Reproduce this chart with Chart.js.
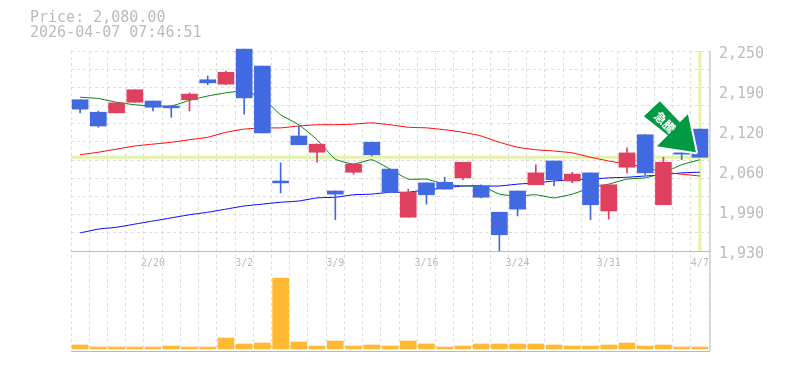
<!DOCTYPE html>
<html>
<head>
<meta charset="utf-8">
<title>Price chart</title>
<script src="https://cdn.jsdelivr.net/npm/chart.js@4"></script>
<style>
    html, body { margin: 0; padding: 0; background: #fff; }
    #wrap { position: relative; width: 785px; height: 370px; }
</style>
</head>
<body>
<div id="wrap"><canvas id="chart" width="785" height="370"></canvas></div>
<script>
const headerLines = ['Price: 2,080.00', '2026-04-07 07:46:51'];
const lastPrice = 2080;
const markText = '急騰';

const dates = ['2/16', '2/17', '2/18', '2/19', '2/20', '2/24', '2/25', '2/26', '2/27', '3/2', '3/3', '3/4', '3/5', '3/6', '3/9', '3/10', '3/11', '3/12', '3/13', '3/16', '3/17', '3/18', '3/19', '3/23', '3/24', '3/25', '3/26', '3/27', '3/30', '3/31', '4/1', '4/2', '4/3', '4/6', '4/7'];
const dateTicks = ['2/20', '3/2', '3/9', '3/16', '3/24', '3/31', '4/7'];
const priceTicks = [2250, 2186, 2122, 2058, 1994, 1930];

const opens = [2172, 2152, 2151, 2168, 2170, 2162, 2172, 2204, 2197, 2253, 2226, 2042, 2114, 2088, 2026, 2056, 2104, 2061, 1984, 2039, 2040, 2047, 2034, 1992, 2026, 2036, 2074, 2042, 2055, 1994, 2064, 2116, 2004, 2087, 2125];
const closes = [2157, 2130, 2167, 2188, 2160, 2159, 2181, 2199, 2216, 2175, 2119, 2039, 2100, 2101, 2021, 2069, 2084, 2024, 2024, 2020, 2029, 2072, 2016, 1956, 1997, 2055, 2044, 2053, 2004, 2036, 2087, 2055, 2072, 2085, 2080];
const highs = [2172, 2154, 2167, 2188, 2170, 2162, 2183, 2210, 2218, 2253, 2226, 2071, 2130, 2101, 2026, 2069, 2104, 2061, 2029, 2039, 2048, 2072, 2036, 1992, 2026, 2068, 2074, 2056, 2055, 2036, 2095, 2116, 2080, 2087, 2125];
const lows = [2151, 2128, 2151, 2168, 2154, 2144, 2154, 2196, 2196, 2149, 2119, 2023, 2100, 2072, 1980, 2053, 2082, 2024, 1984, 2005, 2029, 2044, 2015, 1930, 1986, 2036, 2034, 2039, 1980, 1981, 2055, 2052, 2004, 2076, 2080];

const maShort = [2176, 2174, 2168, 2164, 2162, 2162, 2171, 2178, 2183, 2186, 2175, 2148, 2132, 2108, 2077, 2069, 2076, 2061, 2045, 2045, 2037, 2034, 2034, 2021, 2018, 2020, 2015, 2021, 2031, 2037, 2045, 2047, 2055, 2068, 2076];
const maMid = [2084, 2088, 2093, 2098, 2101, 2104, 2108, 2112, 2120, 2125, 2127, 2127, 2130, 2132, 2132, 2133, 2135, 2132, 2128, 2127, 2124, 2120, 2114, 2104, 2096, 2092, 2090, 2087, 2080, 2074, 2069, 2064, 2056, 2053, 2050];
const maLong = [1959, 1965, 1968, 1973, 1978, 1983, 1988, 1992, 1997, 2002, 2005, 2008, 2010, 2015, 2016, 2020, 2021, 2024, 2024, 2028, 2031, 2034, 2034, 2034, 2037, 2039, 2042, 2044, 2045, 2047, 2048, 2050, 2052, 2055, 2056];

const volumes = [4, 2, 2, 2, 2, 3, 2, 2, 11, 5, 6, 71, 7, 3, 8, 3, 4, 3, 8, 5, 2, 3, 5, 5, 5, 5, 4, 3, 3, 4, 6, 3, 4, 2, 2];

const UP = '#e04060';
const DOWN = '#4169e1';
const FONT = '"DejaVu Sans Mono", monospace';

// pale cross on the last price and last session, plus the text above the plot
const overlayPlugin = {
    id: 'overlay',
    beforeDatasetsDraw(chart) {
        const { ctx, chartArea: a, scales } = chart;
        const py = scales.y.getPixelForValue(lastPrice);
        const px = scales.x.getPixelForValue(dates.length - 1);
        ctx.save();
        ctx.strokeStyle = '#e5f2ab';
        ctx.lineWidth = 3;
        ctx.beginPath();
        ctx.moveTo(a.left, py);
        ctx.lineTo(a.right, py);
        ctx.moveTo(px, scales.y.getPixelForValue(2250));
        ctx.lineTo(px, scales.y.getPixelForValue(1930));
        ctx.stroke();
        ctx.restore();
    },
    afterDraw(chart) {
        const { ctx, chartArea: a, scales } = chart;
        ctx.save();
        ctx.fillStyle = '#bbb';
        ctx.font = '15px ' + FONT;
        ctx.textBaseline = 'middle';
        headerLines.forEach((t, i) => ctx.fillText(t, 30, 18 + i * 15));

        // panel frame
        ctx.strokeStyle = '#bbb';
        ctx.lineWidth = 1;
        ctx.beginPath();
        const mid = Math.round(scales.y.getPixelForValue(1930)) + 0.5;
        ctx.moveTo(a.left, mid);
        ctx.lineTo(a.right + 1, mid);
        ctx.moveTo(a.left, a.bottom + 0.5);
        ctx.lineTo(a.right + 1, a.bottom + 0.5);
        ctx.moveTo(a.right + 1, a.top);
        ctx.lineTo(a.right + 1, a.bottom);
        ctx.stroke();

        // arrow marker, placed relative to the last session
        const tipX = scales.x.getPixelForValue(dates.length - 1) - 4;
        const tipY = scales.y.getPixelForValue(2080) - 5;
        ctx.translate(tipX, tipY);
        const pts = [[-52, -36], [-36, -51], [-16, -30], [-8, -38], [0, 0], [-39, -6], [-28, -17]];
        ctx.beginPath();
        pts.forEach((p, i) => i ? ctx.lineTo(p[0], p[1]) : ctx.moveTo(p[0], p[1]));
        ctx.closePath();
        ctx.lineJoin = 'round';
        ctx.strokeStyle = '#fff';
        ctx.lineWidth = 4;
        ctx.stroke();
        ctx.fillStyle = '#009944';
        ctx.fill();
        ctx.translate(-31, -30);
        ctx.rotate(Math.PI / 4);
        ctx.fillStyle = '#fff';
        ctx.font = 'bold 12px "Noto Sans CJK JP"';
        ctx.textAlign = 'center';
        ctx.textBaseline = 'middle';
        ctx.fillText(markText, 0, 0);
        ctx.restore();
    }
};

new Chart(document.getElementById('chart'), {
    data: {
        labels: dates,
        datasets: [
            { type: 'line', data: maLong, borderColor: '#0000ff', borderWidth: 1, pointRadius: 0, tension: 0.15, yAxisID: 'y', order: 6 },
            { type: 'line', data: maMid, borderColor: '#ff0000', borderWidth: 1, pointRadius: 0, tension: 0.15, yAxisID: 'y', order: 5 },
            { type: 'line', data: maShort, borderColor: '#008000', borderWidth: 1, pointRadius: 0, tension: 0.15, yAxisID: 'y', order: 4 },
            { type: 'bar', data: volumes, backgroundColor: '#ffb933', barThickness: 16, grouped: false, yAxisID: 'yVol', order: 3 },
            {
                type: 'bar',
                data: lows.map((l, i) => [l, highs[i]]),
                backgroundColor: opens.map((o, i) => closes[i] >= o ? UP : DOWN),
                barThickness: 1,
                grouped: false,
                clip: false,
                yAxisID: 'y',
                order: 2
            },
            {
                type: 'bar',
                data: opens.map((o, i) => [o, closes[i]]),
                backgroundColor: opens.map((o, i) => closes[i] >= o ? UP : DOWN),
                barThickness: 16,
                grouped: false,
                clip: false,
                yAxisID: 'y',
                order: 1
            }
        ]
    },
    options: {
        responsive: false,
        animation: false,
        layout: { padding: { top: 51 } },
        plugins: { legend: { display: false }, tooltip: { enabled: false } },
        scales: {
            x: {
                position: { y: 1930 },
                offset: true,
                border: { display: false, dash: [3, 3] },
                grid: { color: '#ddd', offset: true, drawTicks: false, tickLength: 0 },
                ticks: {
                    autoSkip: false,
                    maxRotation: 0,
                    padding: 6,
                    color: '#bbb',
                    font: { family: FONT, size: 10 },
                    callback(v) {
                        const d = this.getLabelForValue(v);
                        return dateTicks.includes(d) ? d : '';
                    }
                }
            },
            // horizontal grid only, 11 equal steps down the price panel
            yGrid: {
                position: 'left',
                min: 1770,
                max: 2250,
                afterBuildTicks(axis) {
                    axis.ticks = [];
                    for (let i = 0; i <= 11; i++) axis.ticks.push({ value: 1930 + i * 320 / 11 });
                },
                afterFit(axis) { axis.width = 71; },
                border: { display: false, dash: [3, 3] },
                grid: { color: '#ddd', drawTicks: false },
                ticks: { display: false }
            },
            y: {
                position: 'right',
                min: 1770,
                max: 2250,
                afterBuildTicks(axis) { axis.ticks = priceTicks.map(value => ({ value })); },
                afterFit(axis) { axis.width = 76; },
                border: { display: false },
                grid: { display: false, drawTicks: false },
                ticks: {
                    color: '#bbb',
                    padding: 10,
                    labelOffset: 3,
                    font: { family: FONT, size: 15 },
                    callback: v => (Math.round(v / 10) * 10).toLocaleString('en-US')
                }
            },
            yVol: {
                display: false,
                min: -2,
                max: 298
            }
        }
    },
    plugins: [overlayPlugin]
});
</script>
</body>
</html>
